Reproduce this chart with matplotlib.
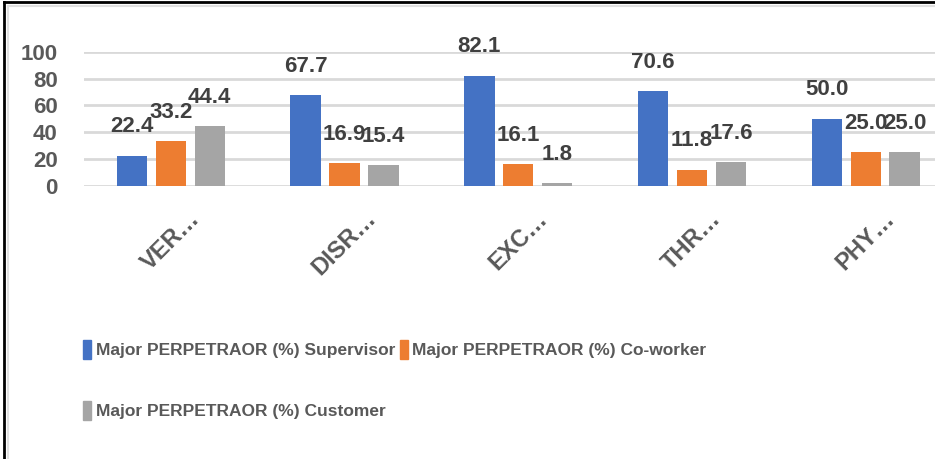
import matplotlib.pyplot as plt
from matplotlib.patches import Patch
from matplotlib.lines import Line2D
import numpy as np

# data
categories = ['VER…', 'DISR…', 'EXC…', 'THR…', 'PHY…']
supervisor = [22.4, 67.7, 82.1, 70.6, 50.0]
coworker = [33.2, 16.9, 16.1, 11.8, 25.0]
customer = [44.4, 15.4, 1.8, 17.6, 25.0]
series_names = ['Major PERPETRAOR (%) Supervisor',
                'Major PERPETRAOR (%) Co-worker',
                'Major PERPETRAOR (%) Customer']
colors = ['#4472C4', '#ED7D31', '#A5A5A5']
yticks = [0, 20, 40, 60, 80, 100]

fam = ['Liberation Sans', 'DejaVu Sans']
txt_col = '#595959'

fig = plt.figure(figsize=(9.35, 4.59), dpi=100)
ax = fig.add_axes([0.0898, 0.595, 0.929, 0.292])

x = np.arange(len(categories))
step = 0.224
width = 0.175
for i, (vals, c) in enumerate(zip([supervisor, coworker, customer], colors)):
    pos = x + (i - 1) * step
    ax.bar(pos, vals, width, color=c, zorder=3)
    for px, v in zip(pos, vals):
        ax.annotate(f'{v:.1f}', (px, v), xytext=(0, 17), textcoords='offset points',
                    ha='center', va='baseline', fontsize=16, fontweight='bold',
                    family=fam, color='#404040', zorder=4)

ax.set_xlim(-0.5, 4.5)
ax.set_ylim(0, 100)
ax.set_yticks(yticks)
ax.set_yticklabels([str(t) for t in yticks], family=fam, fontsize=16,
                   fontweight='bold', color=txt_col)
ax.set_xticks(x)
ax.set_xticklabels(categories, rotation=45, ha='center', fontsize=17,
                   fontweight='bold', color=txt_col, family=fam)
ax.tick_params(axis='both', length=0)
ax.tick_params(axis='x', pad=15)
ax.tick_params(axis='y', pad=19)
ax.grid(axis='y', color='#d9d9d9', linewidth=2, zorder=0)
for s in ax.spines.values():
    s.set_visible(False)

handles = [Patch(color=colors[0]), Patch(color=colors[2]), Patch(color=colors[1])]
labels = [series_names[0], series_names[2], series_names[1]]
fig.legend(handles, labels, loc='upper left', bbox_to_anchor=(0.08, 0.278), ncol=2,
           frameon=False, prop={'family': fam, 'size': 12.5, 'weight': 'bold'},
           labelcolor=txt_col, handlelength=0.45, handleheight=1.3, handletextpad=0.25,
           columnspacing=0.3, labelspacing=2.4, borderpad=0)

# frame around the picture (top and left)
fig.add_artist(Line2D([0.004, 1], [0.995, 0.995], color='black', lw=2, transform=fig.transFigure))
fig.add_artist(Line2D([0.004, 0.004], [0, 0.995], color='black', lw=2, transform=fig.transFigure))
fig.add_artist(Line2D([0.009, 1], [0.988, 0.988], color='#e0e0e0', lw=1.5, transform=fig.transFigure))
fig.add_artist(Line2D([0.009, 0.009], [0, 0.988], color='#e0e0e0', lw=1.5, transform=fig.transFigure))

fig.savefig('out.png', dpi=100)
